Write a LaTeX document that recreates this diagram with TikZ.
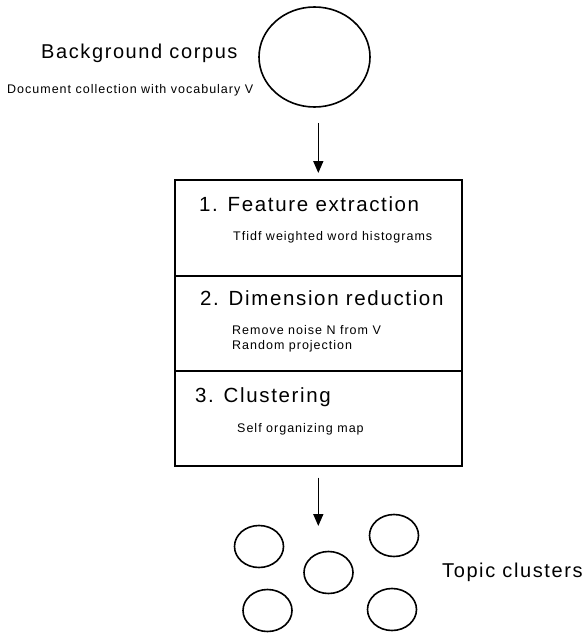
\documentclass[tikz,border=0pt]{standalone}
\usepackage{fontspec}
\setmainfont{Liberation Sans}[LetterSpace=8]
\usetikzlibrary{arrows.meta,positioning,shapes.geometric}

\begin{document}
\begin{tikzpicture}[x=1pt, y=-1pt,
  stage/.style={draw, line width=1.6pt, minimum width=287pt, inner sep=0pt,
                anchor=north west},
  blob/.style={draw, ellipse, line width=1.6pt, inner sep=0pt,
               minimum width=49pt, minimum height=42pt},
  title/.style={anchor=base west, inner sep=0pt, font=\fontsize{20}{24}\selectfont},
  stagetitle/.style={title, font=\fontsize{20.5}{24}\selectfont},
  note/.style={anchor=base west, inner sep=0pt, font=\fontsize{12.5}{15}\selectfont},
  arr/.style={-{Triangle[length=12pt, width=10pt]}, line width=1.6pt}
]
  \useasboundingbox (0,0) rectangle (583,634);

  % corpus
  \node[draw, ellipse, line width=1.6pt, minimum width=111pt,
        minimum height=100pt] (corpus) at (314.5,57) {};
  \node[title] (corpusname) at (41,59) {Background corpus};
  \node[note] (corpusnote) at (7,93) {Document collection with vocabulary V};

  % the three stages
  \node[stage, minimum height=96pt] (feat) at (174,179) {};
  \node[stage, minimum height=95pt] (dimred) at (174,275) {};
  \node[stage, minimum height=95pt] (clust) at (174,370) {};

  \node[stagetitle] (feattitle) at (199,211) {1. Feature extraction};
  \node[note] (featnote) at (233,240) {Tfidf weighted word histograms};
  \node[stagetitle] (dimtitle) at (200,305) {2. Dimension reduction};
  \node[note] (dimnoise) at (232,334) {Remove noise N from V};
  \node[note] (dimproj) at (232,349) {Random projection};
  \node[stagetitle] (clusttitle) at (195,402) {3. Clustering};
  \node[note] (clustnote) at (237,432) {Self organizing map};

  % topic clusters
  \node[blob] (ta) at (259,546.5) {};
  \node[blob] (tb) at (328.5,572.5) {};
  \node[blob] (tc) at (394,535.5) {};
  \node[blob] (td) at (267.5,610.5) {};
  \node[blob] (te) at (392,609.5) {};
  \node[title] (topics) at (442,577) {Topic clusters};
  \coordinate (topicstop) at (317,526);

  \draw[arr, shorten <=15pt, shorten >=6pt] (feat.north |- corpus.south) -- (feat.north);
  \draw[arr, shorten <=11pt] (clust.south) -- (clust.south |- topicstop);
\end{tikzpicture}
\end{document}
